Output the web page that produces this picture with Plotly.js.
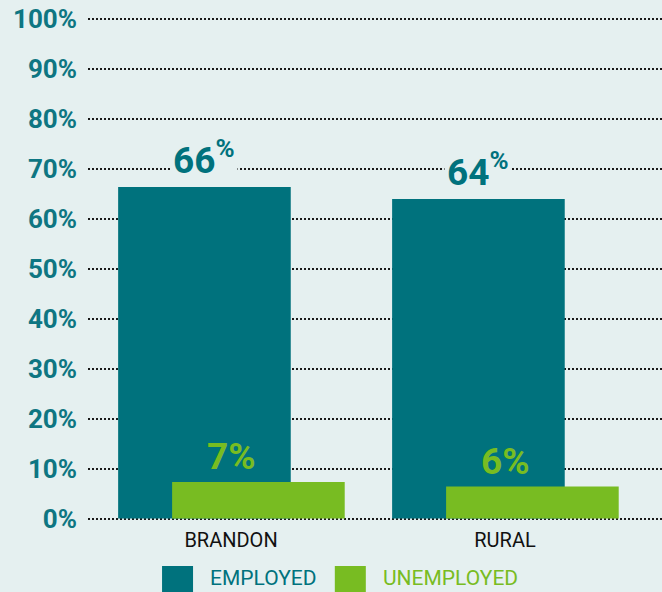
<!DOCTYPE html>
<html>
<head>
<meta charset="utf-8">
<script src="https://cdn.plot.ly/plotly-3.0.1.min.js"></script>
<style>
  html, body { margin: 0; padding: 0; background: #e5f0f0; }
  #chart { width: 662px; height: 592px; }
</style>
</head>
<body>
<div id="chart"></div>
<script>
const categories = ['BRANDON', 'RURAL'];
const seriesNames = ['EMPLOYED', 'UNEMPLOYED'];
const employed = [66.3, 63.9];
const unemployed = [7.3, 6.4];
const yTicks = [0, 10, 20, 30, 40, 50, 60, 70, 80, 90, 100];
const yTickText = yTicks.map(v => v + '%');

const BG = '#e5f0f0';
const TEAL = '#00727d';
const GREEN = '#78bc22';
const FONT = "Roboto, 'DejaVu Sans', sans-serif";

// bar geometry in category units
const barWidth = 0.63;
const offEmployed = -0.412;
const offUnemployed = -0.215;

const traces = [
  {
    type: 'bar', name: seriesNames[0], x: categories, y: employed,
    width: barWidth, offset: offEmployed,
    marker: { color: TEAL, line: { width: 0 } },
    hoverinfo: 'skip'
  },
  {
    type: 'bar', name: seriesNames[1], x: categories, y: unemployed,
    width: barWidth, offset: offUnemployed,
    marker: { color: GREEN, line: { width: 0 } },
    hoverinfo: 'skip'
  }
];

const annotations = [];
categories.forEach((c, i) => {
  annotations.push({
    x: i + offEmployed + barWidth / 2, y: employed[i], xref: 'x', yref: 'y',
    text: Math.round(employed[i]) + '<sup>%</sup>', showarrow: false,
    yanchor: 'bottom', yshift: 2, bgcolor: BG, borderpad: 2,
    font: { family: FONT, size: 37, weight: 700, color: TEAL }
  });
  annotations.push({
    x: i, y: unemployed[i], xref: 'x', yref: 'y',
    text: Math.round(unemployed[i]) + '%', showarrow: false,
    yanchor: 'bottom', yshift: 2,
    font: { family: FONT, size: 37, weight: 700, color: GREEN }
  });
});

// legend drawn by hand for the large swatches
const legendItems = [
  { name: seriesNames[0], color: TEAL, x0: 0.129, x1: 0.183, tx: 0.209 },
  { name: seriesNames[1], color: GREEN, x0: 0.430, x1: 0.484, tx: 0.510 }
];
const shapes = legendItems.map(it => ({
  type: 'rect', xref: 'paper', yref: 'paper',
  x0: it.x0, x1: it.x1, y0: -0.089, y1: -0.2,
  fillcolor: it.color, line: { width: 0 }
}));
legendItems.forEach(it => {
  annotations.push({
    x: it.tx, y: -0.086, xref: 'paper', yref: 'paper',
    xanchor: 'left', yanchor: 'top', showarrow: false,
    text: it.name,
    font: { family: FONT, size: 21, color: it.color }
  });
});

const layout = {
  width: 662, height: 592,
  margin: { l: 88, r: 0, t: 16, b: 71 },
  paper_bgcolor: BG, plot_bgcolor: BG,
  barmode: 'overlay',
  showlegend: false,
  xaxis: {
    type: 'category',
    range: [-0.522, 1.573],
    showgrid: false, zeroline: false, showline: false,
    ticks: '',
    ticklabelstandoff: 5,
    tickfont: { family: FONT, size: 20, color: '#111' }
  },
  yaxis: {
    range: [-0.5, 100.5],
    tickmode: 'array',
    tickvals: yTicks,
    ticktext: yTickText,
    showgrid: true, gridcolor: '#1a1a1a', gridwidth: 2, griddash: '2px,2px',
    zeroline: false, showline: false, ticks: '',
    ticklabelstandoff: 10,
    tickfont: { family: FONT, size: 26, weight: 700, color: '#0e7682' }
  },
  annotations: annotations,
  shapes: shapes
};

Plotly.newPlot('chart', traces, layout, { displayModeBar: false, staticPlot: true });
</script>
</body>
</html>
